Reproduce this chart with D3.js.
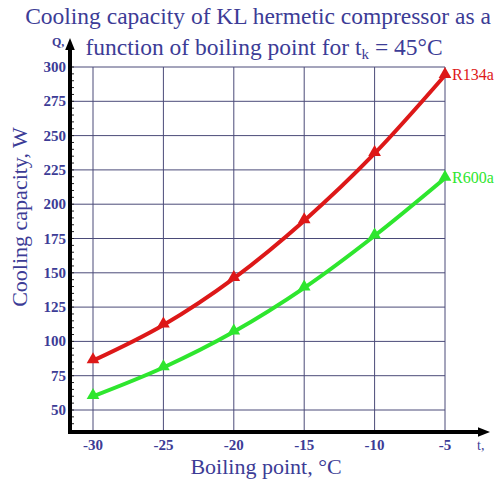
<!DOCTYPE html>
<html>
<head>
<meta charset="utf-8">
<script src="https://cdn.jsdelivr.net/npm/d3@7"></script>
<style>
  body { margin: 0; background: #fff; }
</style>
</head>
<body>
<div id="chart"></div>
<script>
// data
var boilingPoints = [-30, -25, -20, -15, -10, -5];
var r134a = [86, 112, 146, 188, 237, 294];
var r600a = [60, 81, 107, 139, 177, 219];
var yTicks = [50, 75, 100, 125, 150, 175, 200, 225, 250, 275, 300];
var seriesNames = ["R134a", "R600a"];
var seriesColors = ["#dd1818", "#2ee62e"];

var W = 499, H = 480;
var textColor = "#3c3c96";
var gridColor = "#4a4a78";
var serif = "Liberation Serif";

var svg = d3.select("#chart").append("svg")
    .attr("width", W)
    .attr("height", H);

var x = d3.scaleLinear().domain([-30, -5]).range([93, 445]);
var y = d3.scaleLinear().domain([50, 300]).range([410, 67]);
var axisX = 70, axisY = 432;

// grid
svg.selectAll(".hgrid")
    .data(yTicks)
    .enter()
    .append("line")
      .attr("x1", axisX)
      .attr("x2", x(-5))
      .attr("y1", function(d){ return y(d); })
      .attr("y2", function(d){ return y(d); })
      .style("stroke", gridColor)
      .style("stroke-width", 1);

svg.selectAll(".vgrid")
    .data(boilingPoints)
    .enter()
    .append("line")
      .attr("x1", function(d){ return x(d); })
      .attr("x2", function(d){ return x(d); })
      .attr("y1", y(300))
      .attr("y2", axisY)
      .style("stroke", gridColor)
      .style("stroke-width", 1);

// minor ticks on y axis
svg.selectAll(".minor")
    .data(d3.range(35, 301, 5))
    .enter()
    .append("line")
      .attr("x1", axisX)
      .attr("x2", axisX + 4)
      .attr("y1", function(d){ return y(d); })
      .attr("y2", function(d){ return y(d); })
      .style("stroke", "#222")
      .style("stroke-width", 1);

// axes with arrows
svg.append("defs").append("marker")
    .attr("id", "arr")
    .attr("viewBox", "0 0 10 10")
    .attr("refX", 5).attr("refY", 5)
    .attr("markerWidth", 3).attr("markerHeight", 3)
    .attr("orient", "auto")
  .append("path")
    .attr("d", "M0,1 L10,5 L0,9 Z")
    .attr("fill", "#000");

svg.append("line")
    .attr("x1", axisX).attr("x2", axisX)
    .attr("y1", axisY + 2).attr("y2", 44)
    .attr("stroke", "#000").attr("stroke-width", 4)
    .attr("marker-end", "url(#arr)");

svg.append("line")
    .attr("x1", axisX - 2).attr("x2", 484)
    .attr("y1", axisY).attr("y2", axisY)
    .attr("stroke", "#000").attr("stroke-width", 4)
    .attr("marker-end", "url(#arr)");

// tick labels
svg.selectAll(".ylab")
    .data(yTicks)
    .enter()
    .append("text")
      .attr("x", 66)
      .attr("y", function(d){ return y(d) + 5; })
      .attr("text-anchor", "end")
      .attr("font-family", serif)
      .attr("font-size", "15px")
      .attr("font-weight", "bold")
      .attr("fill", textColor)
      .text(function(d){ return d; });

svg.selectAll(".xlab")
    .data(boilingPoints)
    .enter()
    .append("text")
      .attr("x", function(d){ return x(d); })
      .attr("y", 450)
      .attr("text-anchor", "middle")
      .attr("font-family", serif)
      .attr("font-size", "15px")
      .attr("font-weight", "bold")
      .attr("fill", textColor)
      .text(function(d){ return d; });

// lines
var allSeries = [r134a, r600a];
var line = d3.line()
    .x(function(d, i){ return x(boilingPoints[i]); })
    .y(function(d){ return y(d); })
    .curve(d3.curveMonotoneX);

svg.selectAll(".series")
    .data(allSeries)
    .enter()
    .append("path")
      .attr("d", function(d){ return line(d); })
      .attr("fill", "none")
      .attr("stroke", function(d, i){ return seriesColors[i]; })
      .attr("stroke-width", 4);

var tri = d3.symbol().type(d3.symbolTriangle).size(70);
allSeries.forEach(function(s, si){
  svg.selectAll(".pt" + si)
      .data(s)
      .enter()
      .append("path")
        .attr("d", tri)
        .attr("transform", function(d, i){ return "translate(" + x(boilingPoints[i]) + "," + (y(d) - 1) + ")"; })
        .attr("fill", seriesColors[si]);

  svg.append("text")
      .attr("x", x(-5) + 7)
      .attr("y", y(s[s.length - 1]) + 5)
      .attr("font-family", serif)
      .attr("font-size", "16px")
      .attr("fill", seriesColors[si])
      .text(seriesNames[si]);
});

// titles
svg.append("text")
    .attr("x", 258).attr("y", 24)
    .attr("text-anchor", "middle")
    .attr("font-family", serif)
    .attr("font-size", "23.5px")
    .attr("fill", textColor)
    .text("Cooling capacity of KL hermetic compressor as a");

var t2 = svg.append("text")
    .attr("x", 264).attr("y", 55)
    .attr("text-anchor", "middle")
    .attr("font-family", serif)
    .attr("font-size", "23.5px")
    .attr("fill", textColor);
t2.append("tspan").text("function of boiling point for t");
t2.append("tspan").attr("font-size", "15px").attr("dy", 4).text("k");
t2.append("tspan").attr("dy", -4).text(" = 45°C");

svg.append("text")
    .attr("transform", "translate(27,217) rotate(-90)")
    .attr("text-anchor", "middle")
    .attr("font-family", serif)
    .attr("font-size", "22px")
    .attr("fill", textColor)
    .text("Cooling capacity, W");

svg.append("text")
    .attr("x", 266).attr("y", 474)
    .attr("text-anchor", "middle")
    .attr("font-family", serif)
    .attr("font-size", "22px")
    .attr("fill", textColor)
    .text("Boiling point, °C");

svg.append("text")
    .attr("x", 52).attr("y", 46)
    .attr("font-family", serif)
    .attr("font-size", "12px")
    .attr("font-weight", "bold")
    .attr("fill", textColor)
    .text("Q,");

svg.append("text")
    .attr("x", 477).attr("y", 450)
    .attr("font-family", serif)
    .attr("font-size", "14px")
    .attr("fill", textColor)
    .text("t,");
</script>
</body>
</html>
